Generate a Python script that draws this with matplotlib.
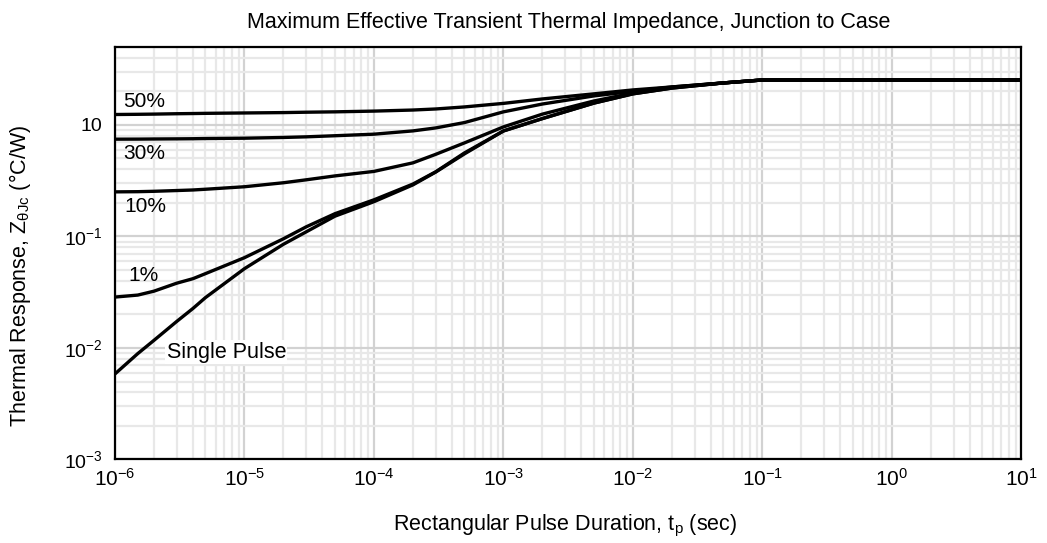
import matplotlib
matplotlib.use('Agg')
import matplotlib.pyplot as plt
from matplotlib.ticker import LogLocator, FixedLocator, FixedFormatter, NullFormatter

plt.rcParams['font.family'] = ['Liberation Sans', 'DejaVu Sans']
plt.rcParams['mathtext.fontset'] = 'custom'
plt.rcParams['mathtext.rm'] = 'Liberation Sans'
plt.rcParams['mathtext.it'] = 'Liberation Sans:italic'

# pulse duration (sec)
t_pts = [1e-6, 1.5e-6, 2e-6, 3e-6, 4e-6, 5e-6, 1e-5, 2e-5, 3e-5, 5e-5, 1e-4, 2e-4, 3e-4,
         5e-4, 1e-3, 2e-3, 5e-3, 1e-2, 2e-2, 5e-2, 1e-1, 10]

# thermal response for each duty cycle
z_50 = [1.24, 1.245, 1.25, 1.26, 1.265, 1.27, 1.28, 1.29, 1.30, 1.31, 1.33, 1.36, 1.39,
        1.45, 1.56, 1.71, 1.90, 2.06, 2.19, 2.38, 2.53, 2.53]
z_30 = [0.745, 0.746, 0.748, 0.750, 0.752, 0.755, 0.760, 0.772, 0.782, 0.800, 0.826, 0.884, 0.94,
        1.05, 1.31, 1.54, 1.82, 2.00, 2.19, 2.38, 2.53, 2.53]
z_10 = [0.251, 0.252, 0.254, 0.258, 0.261, 0.265, 0.279, 0.303, 0.322, 0.349, 0.383, 0.457, 0.545,
        0.690, 0.960, 1.25, 1.64, 1.93, 2.17, 2.38, 2.53, 2.53]
z_1 = [0.0286, 0.0298, 0.0323, 0.0381, 0.0418, 0.0464, 0.0645, 0.0953, 0.122, 0.160, 0.213, 0.295, 0.38,
       0.561, 0.883, 1.14, 1.57, 1.90, 2.14, 2.38, 2.53, 2.53]
z_single = [0.00585, 0.0089, 0.0117, 0.0173, 0.0226, 0.0283, 0.0514, 0.0851, 0.110, 0.152, 0.205, 0.290, 0.378,
            0.55, 0.883, 1.14, 1.57, 1.90, 2.14, 2.38, 2.53, 2.53]

curve_labels = ['50%', '30%', '10%', '1%']
label_t = [1.15e-6, 1.15e-6, 1.19e-6, 1.26e-6]
label_z = [1.62, 0.553, 0.1845, 0.0445]

y_ticks = [1e-3, 1e-2, 1e-1, 1]
y_ticklabels = [r'$10^{-3}$', r'$10^{-2}$', r'$10^{-1}$', '10']
x_ticks = [1e-6, 1e-5, 1e-4, 1e-3, 1e-2, 1e-1, 1, 10]
x_ticklabels = [r'$10^{-6}$', r'$10^{-5}$', r'$10^{-4}$', r'$10^{-3}$', r'$10^{-2}$',
                r'$10^{-1}$', r'$10^{0}$', r'$10^{1}$']

fig = plt.figure(figsize=(10.47, 5.43), dpi=100)
ax = fig.add_axes([0.1098, 0.1538, 0.8658, 0.7597])

for z in [z_50, z_30, z_10, z_1, z_single]:
    ax.plot(t_pts, z, color='black', lw=2.4, solid_capstyle='round',
            solid_joinstyle='round', zorder=3)

ax.set_xscale('log')
ax.set_yscale('log')
ax.set_xlim(1e-6, 10)
ax.set_ylim(1e-3, 5)

ax.xaxis.set_major_locator(FixedLocator(x_ticks))
ax.xaxis.set_major_formatter(FixedFormatter(x_ticklabels))
ax.yaxis.set_major_locator(FixedLocator(y_ticks))
ax.yaxis.set_major_formatter(FixedFormatter(y_ticklabels))
ax.xaxis.set_minor_locator(LogLocator(base=10, subs=range(2, 10), numticks=50))
ax.yaxis.set_minor_locator(LogLocator(base=10, subs=range(2, 10), numticks=50))
ax.xaxis.set_minor_formatter(NullFormatter())
ax.yaxis.set_minor_formatter(NullFormatter())

ax.grid(True, which='major', color='#d2d2d2', lw=1.6, zorder=0)
ax.grid(True, which='minor', color='#e8e8e8', lw=1.6, zorder=0)
ax.set_axisbelow(True)

ax.tick_params(axis='both', which='both', length=0)
ax.tick_params(axis='x', labelsize=15, pad=6)
ax.tick_params(axis='y', labelsize=14, pad=9)

for s in ax.spines.values():
    s.set_linewidth(1.6)
    s.set_color('black')

for lab, tx, zy in zip(curve_labels, label_t, label_z):
    ax.text(tx, zy, lab, fontsize=15, ha='left', va='center', zorder=4)

ax.text(7.26e-6, 0.00919, 'Single Pulse', fontsize=15.5, ha='center', va='center', zorder=4,
        bbox=dict(facecolor='white', edgecolor='none', pad=1))

ax.set_title('Maximum Effective Transient Thermal Impedance, Junction to Case',
             fontsize=15.5, pad=14)
ax.set_xlabel(r'Rectangular Pulse Duration, $\mathrm{t_p}$ (sec)', fontsize=15.5)
ax.xaxis.set_label_coords(0.4965, -0.13)
ax.set_ylabel(r'Thermal Response, $\mathrm{Z_{\theta Jc}}$ (°C/W)', fontsize=15.5)
ax.yaxis.set_label_coords(-0.09, 0.445)

fig.savefig('out.png', dpi=100)
